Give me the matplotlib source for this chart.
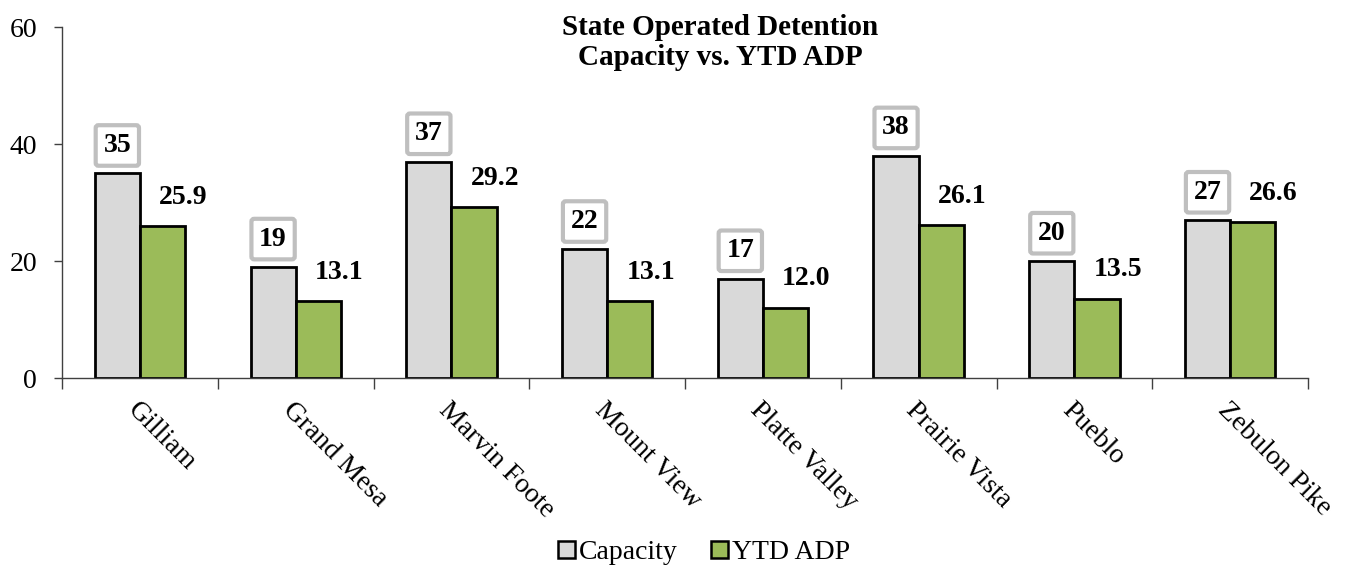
import numpy as np
import matplotlib
matplotlib.use("Agg")
import matplotlib.pyplot as plt

facilities = ["Gilliam", "Grand Mesa", "Marvin Foote", "Mount View",
              "Platte Valley", "Prairie Vista", "Pueblo", "Zebulon Pike"]
capacity = [35, 19, 37, 22, 17, 38, 20, 27]
ytd_adp = [25.9, 13.1, 29.2, 13.1, 12.0, 26.1, 13.5, 26.6]

plt.rcParams['font.family'] = ['Liberation Serif', 'DejaVu Serif']

fig = plt.figure(figsize=(13.49, 5.71), dpi=100)
ax = fig.add_axes([0.046, 0.338, 0.9236, 0.6147])

x = np.arange(len(facilities))
w = 0.29
ax.bar(x - w / 2, capacity, w, color='#d9d9d9', edgecolor='black',
       linewidth=2, label='Capacity')
ax.bar(x + w / 2, ytd_adp, w, color='#9bbb59', edgecolor='black',
       linewidth=2, label='YTD ADP')

for xi, v in zip(x, capacity):
    ax.annotate(f"{v}", (xi - w / 2, v), xytext=(0, 20), textcoords='offset points',
                ha='center', va='center', fontsize=20, fontweight='bold',
                bbox=dict(boxstyle='round,pad=0.28,rounding_size=0.1', fc='white',
                          ec='#bfbfbf', lw=3))
for xi, v in zip(x, ytd_adp):
    ax.annotate(f"{v:.1f}", (xi + w / 2, v), xytext=(15, 21), textcoords='offset points',
                ha='center', va='center', fontsize=20, fontweight='bold')

ax.set_xlim(-0.5, len(facilities) - 0.5)
ax.set_ylim(0, 60)
ax.set_yticks([0, 20, 40, 60])
ax.tick_params(axis='y', labelsize=20, length=6, width=1, direction='out', pad=12)
ax.set_xticks(x)
ax.set_xticklabels(facilities, rotation=-45, ha='left', va='top',
                   rotation_mode='anchor', fontsize=20)
ax.tick_params(axis='x', which='major', length=0, pad=14)
ax.set_xticks(np.arange(-0.5, len(facilities)), minor=True)
ax.tick_params(axis='x', which='minor', length=8, width=1, direction='out')

for s in ['top', 'right']:
    ax.spines[s].set_visible(False)
for s in ['left', 'bottom']:
    ax.spines[s].set_color('#404040')
    ax.spines[s].set_linewidth(1)
ax.tick_params(colors='#404040', labelcolor='black', which='both')

fig.text(0.534, 0.925, "State Operated Detention\nCapacity vs. YTD ADP",
         ha='center', va='center', fontsize=21, fontweight='bold', linespacing=1.15)

handles = [plt.Rectangle((0, 0), 1, 1, fc='#d9d9d9', ec='black', lw=1.8),
           plt.Rectangle((0, 0), 1, 1, fc='#9bbb59', ec='black', lw=1.8)]
fig.legend(handles, ['Capacity', 'YTD ADP'], loc='center', bbox_to_anchor=(0.522, 0.032),
           ncol=2, frameon=False, fontsize=20, handlelength=0.6, handleheight=0.6,
           handletextpad=0.15, columnspacing=1.2)

fig.savefig("out.png", dpi=100)
